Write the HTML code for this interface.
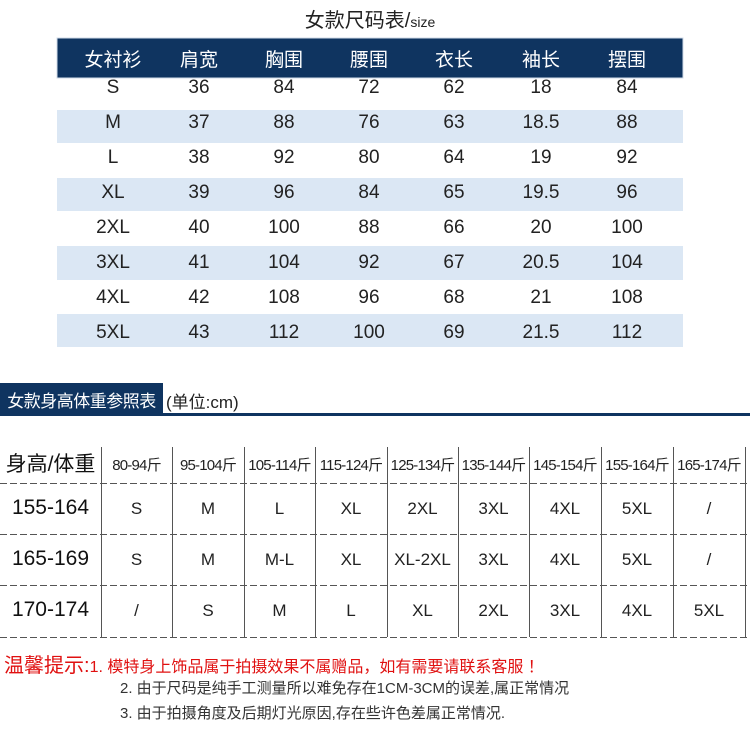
<!DOCTYPE html>
<html><head><meta charset="utf-8"><style>
body{margin:0;width:750px;height:739px;background:#fff;position:relative;overflow:hidden;font-family:"Liberation Sans","Noto Sans CJK SC",sans-serif;color:#111}
.a{position:absolute}
.c{position:absolute;text-align:center;white-space:nowrap}
</style></head><body>
<div class="a" style="left:0;top:4px;width:750px;text-align:center;font-size:20px;color:#222"><span style="margin-left:-10px">女款尺码表/<span style="font-size:14px">size</span></span></div>
<svg class="a" style="left:0;top:0" width="750" height="739">
<rect x="57" y="38" width="626" height="40" fill="#0f3460"/>
<rect x="57" y="38" width="626" height="40" fill="none" stroke="#d0dbe8" stroke-width="1"/>
<rect x="57" y="110" width="626" height="33" fill="#dbe7f4"/>
<rect x="57" y="178" width="626" height="33" fill="#dbe7f4"/>
<rect x="57" y="246" width="626" height="34" fill="#dbe7f4"/>
<rect x="57" y="314" width="626" height="33" fill="#dbe7f4"/>
<rect x="0" y="383" width="163" height="31" fill="#0f3460"/>
<rect x="0" y="413" width="750" height="3" fill="#0f3460"/>
<g stroke="#555" stroke-width="1" stroke-dasharray="7,3">
<line x1="0" y1="483.5" x2="750" y2="483.5"/><line x1="0" y1="534.5" x2="750" y2="534.5"/><line x1="0" y1="585.5" x2="750" y2="585.5"/><line x1="0" y1="637.5" x2="750" y2="637.5"/>
</g>
<g stroke="#555" stroke-width="1">
<line x1="101.5" y1="447" x2="101.5" y2="637"/><line x1="172.5" y1="447" x2="172.5" y2="637"/><line x1="244.5" y1="447" x2="244.5" y2="637"/><line x1="315.5" y1="447" x2="315.5" y2="637"/><line x1="387.5" y1="447" x2="387.5" y2="637"/><line x1="458.5" y1="447" x2="458.5" y2="637"/><line x1="529.5" y1="447" x2="529.5" y2="637"/><line x1="601.5" y1="447" x2="601.5" y2="637"/><line x1="673.5" y1="447" x2="673.5" y2="637"/><line x1="745.5" y1="447" x2="745.5" y2="637"/>
</g>
</svg>
<div id="t1"></div>
<div class="a" style="left:0;top:387px;width:163px;font-size:17px;color:#fff;text-align:center;letter-spacing:-0.5px">女款身高体重参照表</div>
<div class="a" style="left:166px;top:388px;font-size:17px;color:#222">(单位:cm)</div>
<div class="a" style="left:4px;top:649px;font-size:20px;color:#e01010">温馨提示:<span style="font-size:16px">1. 模特身上饰品属于拍摄效果不属赠品，如有需要请联系客服 ！</span></div>
<div class="a" style="left:120px;top:677px;font-size:15px;color:#333">2. 由于尺码是纯手工测量所以难免存在1CM-3CM的误差,属正常情况</div>
<div class="a" style="left:120px;top:702px;font-size:15px;color:#333">3. 由于拍摄角度及后期灯光原因,存在些许色差属正常情况.</div>
<script>
var h=["女衬衫","肩宽","胸围","腰围","衣长","袖长","摆围"];
var d=[["S",36,84,72,62,18,84],["M",37,88,76,63,18.5,88],["L",38,92,80,64,19,92],["XL",39,96,84,65,19.5,96],["2XL",40,100,88,66,20,100],["3XL",41,104,92,67,20.5,104],["4XL",42,108,96,68,21,108],["5XL",43,112,100,69,21.5,112]];
var cx=[113,199,284,369,454,541,627],s="";
h.forEach(function(t,i){s+='<div class="c" style="left:'+(cx[i]-50)+'px;width:100px;top:45px;font-size:19px;color:#fff">'+t+'</div>';});
d.forEach(function(r,j){var y=77+j*35;r.forEach(function(t,i){s+='<div class="c" style="left:'+(cx[i]-50)+'px;width:100px;top:'+y+'px;font-size:19px;color:#222">'+t+'</div>';});});
var x=[0,101,172,244,315,387,458,529,601,673,745];
var hh=["80-94斤","95-104斤","105-114斤","115-124斤","125-134斤","135-144斤","145-154斤","155-164斤","165-174斤"];
s+='<div class="c" style="left:0;width:101px;top:448px;font-size:21px;color:#111">身高/体重</div>';
hh.forEach(function(t,i){s+='<div class="c" style="left:'+x[i+1]+'px;width:'+(x[i+2]-x[i+1])+'px;top:454px;font-size:15px;color:#222;letter-spacing:-0.8px">'+t+'</div>';});
var rows=[["155-164","S","M","L","XL","2XL","3XL","4XL","5XL","/"],["165-169","S","M","M-L","XL","XL-2XL","3XL","4XL","5XL","/"],["170-174","/","S","M","L","XL","2XL","3XL","4XL","5XL"]];
var ry=[484,535,586];
rows.forEach(function(r,j){r.forEach(function(t,i){if(i==0)s+='<div class="c" style="left:0;width:101px;top:'+(ry[j]+12)+'px;font-size:21px;color:#111">'+t+'</div>';else s+='<div class="c" style="left:'+x[i]+'px;width:'+(x[i+1]-x[i])+'px;top:'+(ry[j]+15)+'px;font-size:17px;color:#222">'+t+'</div>';});});
document.getElementById("t1").innerHTML=s;
</script>
</body></html>
